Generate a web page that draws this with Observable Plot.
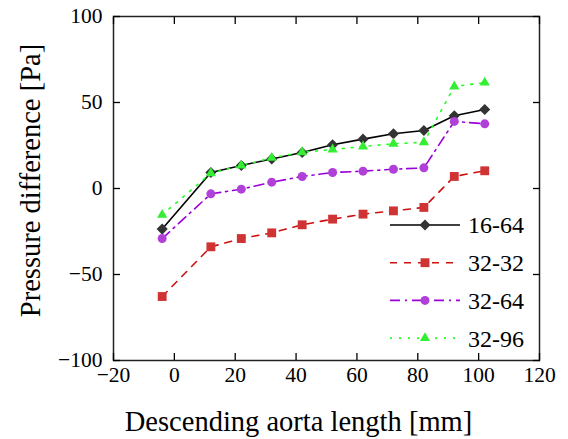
<!DOCTYPE html>
<html><head><meta charset="utf-8">
<script src="https://cdn.jsdelivr.net/npm/d3@7"></script>
<script src="https://cdn.jsdelivr.net/npm/@observablehq/plot@0.6"></script>
<style>body{margin:0;background:#fff} #chart{position:relative;width:568px;height:439px}</style>
</head><body><div id="chart"></div>
<script>
const xs = [-4, 12, 22, 32, 42, 52, 62, 72, 82, 92, 102];
const s1664 = [-23.6, 9.3, 13.4, 17.2, 20.9, 25.4, 28.7, 31.8, 33.7, 42.3, 45.9];
const s3232 = [-62.8, -33.9, -29.1, -25.8, -21.1, -17.8, -14.9, -13.0, -11.0, 7.0, 10.3];
const s3264 = [-29.1, -3.1, -0.4, 3.7, 7.0, 9.3, 10.1, 11.2, 12.0, 39.0, 37.6];
const s3296 = [-15.3, 8.9, 13.4, 17.8, 21.1, 22.7, 24.4, 26.0, 26.9, 59.3, 61.6];
const seriesNames = ["16-64", "32-32", "32-64", "32-96"];
const xTicks = [-20, 0, 20, 40, 60, 80, 100, 120];
const yTicks = [-100, -50, 0, 50, 100];
const xTitle = "Descending aorta length [mm]";
const yTitle = "Pressure difference [Pa]";

const values = [s1664, s3232, s3264, s3296];
const styles = [
  {stroke: "#000000", fill: "#333333", symbol: "diamond2", r: 5.0, dash: null},
  {stroke: "#cc1111", fill: "#d03333", symbol: "square", r: 5.0, dash: "7,7"},
  {stroke: "#9a00d8", fill: "#b040d8", symbol: "circle", r: 4.5, dash: "10,5,2,5"},
  {stroke: "#22ff22", fill: "#33ee33", symbol: "triangle", r: 3.8, dash: "2,7"}
];
const FONT = "Liberation Serif";

const marks = [];
seriesNames.forEach((name, i) => {
  const data = xs.map((x, j) => ({x, y: values[i][j]}));
  const st = styles[i];
  marks.push(Plot.line(data, {x: "x", y: "y", stroke: st.stroke, strokeWidth: 1.6, strokeDasharray: st.dash}));
});
seriesNames.forEach((name, i) => {
  const data = xs.map((x, j) => ({x, y: values[i][j]}));
  const st = styles[i];
  marks.push(Plot.dot(data, {x: "x", y: "y", symbol: st.symbol, r: st.r, fill: st.fill, stroke: "none"}));
});

const chart = Plot.plot({
  width: 568, height: 439,
  marginLeft: 113, marginRight: 29, marginTop: 16, marginBottom: 79,
  style: {fontFamily: FONT, background: "#fff", color: "#000", overflow: "visible"},
  x: {domain: [-20, 120]},
  y: {domain: [-100, 100]},
  marks: [
    ...marks,
    Plot.frame({stroke: "#222", strokeWidth: 1.5}),
    Plot.axisX(xTicks, {anchor: "bottom", tickSize: -7, tickPadding: 13, fontSize: 21.5, label: null, strokeWidth: 1.3}),
    Plot.axisX(xTicks, {anchor: "top", tickSize: -7, tickFormat: () => "", label: null, strokeWidth: 1.3}),
    Plot.axisY(yTicks, {anchor: "left", tickSize: -7, tickPadding: 18, fontSize: 21.5, label: null, strokeWidth: 1.3}),
    Plot.axisY(yTicks, {anchor: "right", tickSize: -7, tickFormat: () => "", label: null, strokeWidth: 1.3}),
    Plot.text([xTitle], {frameAnchor: "bottom", dx: -28, dy: 61, fontSize: 28.5, lineAnchor: "middle", textAnchor: "middle"}),
    Plot.text([yTitle], {frameAnchor: "left", dx: -83, dy: -8, rotate: -90, fontSize: 28.5, lineAnchor: "middle", textAnchor: "middle"})
  ]
});
document.getElementById("chart").appendChild(chart);

// legend inside the plot area (lower right)
const svg = d3.select(chart);
const lg = svg.append("g").attr("font-family", FONT).attr("font-size", 24).attr("text-anchor", "start");
const lx0 = 390, lx1 = 460, lxm = 425, ltx = 468, ly0 = 225, ldy = 37.7;
seriesNames.forEach((name, i) => {
  const st = styles[i];
  const y = ly0 + i * ldy;
  lg.append("line").attr("x1", lx0).attr("x2", lx1).attr("y1", y).attr("y2", y)
    .attr("stroke", st.stroke).attr("stroke-width", 1.6).attr("stroke-dasharray", st.dash);
  const sym = {diamond2: d3.symbolDiamond2, square: d3.symbolSquare, circle: d3.symbolCircle, triangle: d3.symbolTriangle}[st.symbol];
  lg.append("path").attr("transform", `translate(${lxm},${y})`)
    .attr("d", d3.symbol(sym, Math.PI * st.r * st.r)()).attr("fill", st.fill);
  lg.append("text").attr("x", ltx).attr("y", y).attr("dy", "0.35em").text(name);
});
</script>
</body></html>
